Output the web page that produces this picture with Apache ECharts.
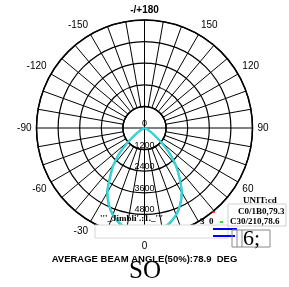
<!DOCTYPE html>
<html>
<head>
<meta charset="utf-8">
<script src="https://cdn.jsdelivr.net/npm/echarts@6/dist/echarts.min.js"></script>
<style>
  html, body { margin: 0; padding: 0; background: #fff; }
  #chart { width: 289px; height: 287px; }
</style>
</head>
<body>
<div id="chart"></div>
<script>
// gamma angles (deg), negative = left half
var angles = [-90,-85,-80,-75,-70,-65,-60,-55,-50,-45,-40,-35,-30,-25,-20,-15,-10,-5,0,
              5,10,15,20,25,30,35,40,45,50,55,60,65,70,75,80,85,90];
// candela values
var c0_180 = [0,0,5,15,40,110,280,600,1150,1950,2700,3350,4150,4700,5150,5460,5700,5850,5900,
              5850,5700,5460,5150,4700,4150,3400,2700,1950,1150,600,280,110,40,15,5,0,0];
var c30_210 = [0,0,4,12,35,100,270,580,1120,1900,2660,3300,4100,4680,5120,5430,5660,5800,5850,
               5800,5660,5430,5120,4680,4120,3380,2680,1900,1120,580,270,100,35,12,4,0,0];
var ringTicks = [0, 1200, 2400, 3600, 4800, 6000];

var chart = echarts.init(document.getElementById('chart'));

function toPolar(vals) {
    var out = [];
    for (var i = 0; i < angles.length; i++) {
        var a = angles[i] < 0 ? angles[i] + 360 : angles[i];
        out.push([vals[i], a]);
    }
    return out;
}

var cx = 144.5, cy = 128, R = 108, r0 = R / 5;

var option = {
    animation: false,
    polar: [
        { center: [cx, cy], radius: [0, R] },
        { center: [cx, cy], radius: [r0, R] },
        { center: [cx, cy], radius: [0, r0] }
    ],
    angleAxis: [
        {
            polarIndex: 0, type: 'value', min: 0, max: 360, startAngle: 270, clockwise: false,
            axisLine: { show: false }, axisTick: { show: false }, axisLabel: { show: false },
            splitLine: { show: false }
        },
        {
            polarIndex: 1, type: 'value', min: -180, max: 180, interval: 30,
            startAngle: 90, clockwise: false,
            axisLine: { show: true, lineStyle: { color: '#000', width: 1.5 } },
            axisTick: { show: false },
            axisLabel: {
                margin: 5, color: '#000', fontSize: 10, fontFamily: 'Liberation Sans, Arial',
                formatter: function (v) {
                    if (v === -180) return '{b|-/+180}';
                    if (v === 180) return '';
                    return String(v);
                },
                rich: { b: { fontWeight: 'bold', fontSize: 10, fontFamily: 'Liberation Sans, Arial', color: '#000' } }
            },
            splitLine: { show: true, lineStyle: { color: '#000', width: 1 } },
            minorTick: { show: false, splitNumber: 3 },
            minorSplitLine: { show: true, lineStyle: { color: '#000', width: 1 } }
        },
        {
            polarIndex: 2, type: 'value', min: -180, max: 180, interval: 90,
            startAngle: 90, clockwise: false,
            axisLine: { show: false }, axisTick: { show: false }, axisLabel: { show: false },
            splitLine: { show: true, lineStyle: { color: '#000', width: 1 } }
        }
    ],
    radiusAxis: [
        {
            polarIndex: 0, type: 'value', min: ringTicks[0], max: ringTicks[ringTicks.length - 1], interval: 1200,
            axisLine: { show: false }, axisTick: { show: false },
            axisLabel: {
                margin: 0, align: 'center', verticalAlign: 'bottom',
                color: '#000', fontSize: 9, fontFamily: 'Liberation Sans, Arial',
                formatter: function (v) { return v === 6000 ? '' : String(v); }
            },
            splitLine: { show: true, lineStyle: { color: '#000', width: 1.2 } }
        },
        {
            polarIndex: 1, type: 'value', min: 0, max: 1,
            axisLine: { show: false }, axisTick: { show: false }, axisLabel: { show: false },
            splitLine: { show: false }
        },
        {
            polarIndex: 2, type: 'value', min: 0, max: 1,
            axisLine: { show: false }, axisTick: { show: false }, axisLabel: { show: false },
            splitLine: { show: false }
        }
    ],
    series: [
        {
            name: 'C0/180', type: 'line', coordinateSystem: 'polar', polarIndex: 0,
            symbol: 'none', smooth: 0.3, z: 5,
            lineStyle: { color: '#1aa8a0', width: 2 },
            data: toPolar(c0_180)
        },
        {
            name: 'C30/210', type: 'line', coordinateSystem: 'polar', polarIndex: 0,
            symbol: 'none', smooth: 0.3, z: 6,
            lineStyle: { color: '#38d6de', width: 2 },
            data: toPolar(c30_210)
        }
    ],
    graphic: [
        { type: 'rect', z: 20, shape: { x: 95, y: 225, width: 133, height: 13 },
          style: { fill: '#fff', stroke: '#d8d8d8', lineWidth: 1 } },
        { type: 'text', z: 21, left: 100, top: 214,
          style: { text: "'''_Jimbli'.:1._'''", font: 'bold 9px "Liberation Serif"', fill: '#000' } },
        { type: 'rect', z: 20, shape: { x: 228, y: 204, width: 58, height: 22 },
          style: { fill: 'none', stroke: '#d0d0d0', lineWidth: 1 } },
        { type: 'text', z: 21, left: 243, top: 196,
          style: { text: 'UNIT:cd', font: 'bold 9px "Liberation Serif"', fill: '#000' } },
        { type: 'text', z: 21, left: 238, top: 207,
          style: { text: 'C0/1B0,79.3', font: 'bold 9px "Liberation Serif"', fill: '#000' } },
        { type: 'line', z: 21, shape: { x1: 212, y1: 212, x2: 215, y2: 212 },
          style: { stroke: '#ff0000', lineWidth: 1.5 } },
        { type: 'text', z: 21, left: 200, top: 217,
          style: { text: '3  0', font: 'bold 9px "Liberation Serif"', fill: '#000' } },
        { type: 'line', z: 21, shape: { x1: 220, y1: 222, x2: 223, y2: 222 },
          style: { stroke: '#00c000', lineWidth: 1.5 } },
        { type: 'text', z: 21, left: 230, top: 217,
          style: { text: 'C30/210,78.6', font: 'bold 9px "Liberation Serif"', fill: '#000' } },
        { type: 'line', z: 21, shape: { x1: 213, y1: 229, x2: 237, y2: 229 },
          style: { stroke: '#0000ff', lineWidth: 2 } },
        { type: 'line', z: 21, shape: { x1: 213, y1: 236, x2: 235, y2: 236 },
          style: { stroke: '#0000ff', lineWidth: 2 } },
        { type: 'rect', z: 21, shape: { x: 232, y: 230, width: 38, height: 17 },
          style: { fill: 'none', stroke: '#888', lineWidth: 1 } },
        { type: 'line', z: 21, shape: { x1: 237, y1: 230, x2: 237, y2: 247 },
          style: { stroke: '#888', lineWidth: 1 } },
        { type: 'line', z: 21, shape: { x1: 242, y1: 230, x2: 242, y2: 247 },
          style: { stroke: '#888', lineWidth: 1 } },
        { type: 'text', z: 22, left: 243, top: 228,
          style: { text: '6;', font: '22px "Liberation Serif"', fill: '#000' } },
        { type: 'text', z: 21, left: 'center', top: 254,
          style: { text: 'AVERAGE BEAM ANGLE(50%):78.9  DEG', font: 'bold 9.5px "Liberation Sans"', fill: '#000' } },
        { type: 'text', z: 22, left: 129, top: 259,
          style: { text: 'SO', font: '25px "Liberation Serif"', fill: '#000' } }
    ]
};

chart.setOption(option);
</script>
</body>
</html>
